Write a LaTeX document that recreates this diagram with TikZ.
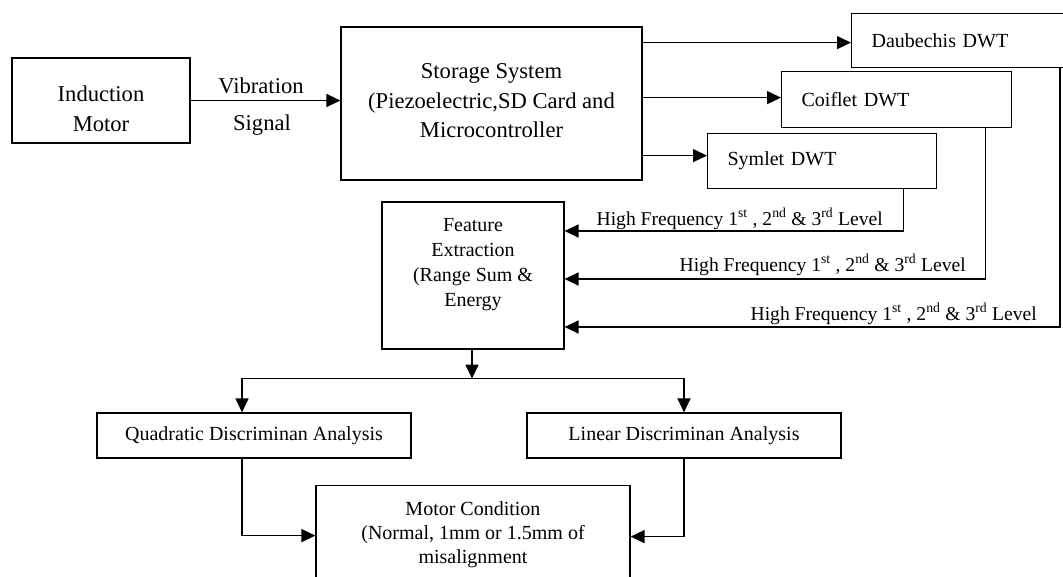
\documentclass[tikz,border=0pt]{standalone}
\usepackage{fontspec}
\setmainfont{Liberation Serif}
\usetikzlibrary{arrows.meta,calc}
\newcommand\hfreqtext{High Frequency 1\textsuperscript{st} , 2\textsuperscript{nd} \& 3\textsuperscript{rd} Level}
\begin{document}
\begin{tikzpicture}[x=1pt,y=-1pt,
  font=\fontsize{20}{24}\selectfont,
  big/.style={font=\fontsize{22.6}{#1}\selectfont},
  box/.style={draw, line width=1.2pt, inner sep=0pt},
  dwt/.style={box, align=left, inner xsep=20pt, anchor=north west},
  lbl/.style={inner sep=0pt, align=center},
  conn/.style={line width=1.4pt},
  arr/.style={conn, -{Triangle[length=14pt,width=13pt]}},
]
\useasboundingbox (0,0) rectangle (1063,576);
\clip (0,0) rectangle (1063,576);
\fill[white] (0,0) rectangle (1063,576);

% boxes
\node[box, minimum width=178pt, minimum height=85pt] (im) at (101,100.5) {};
\node[lbl, big=30] (imtext) at (101,109) {Induction\\Motor};

\node[box, minimum width=301pt, minimum height=153pt] (store) at (491.5,103.5) {};
\node[lbl, big=29.5] (storetext) at (491.5,101) {Storage System\\(Piezoelectric,SD Card and\\Microcontroller};

\node[dwt, text width=189pt, minimum height=54pt] (daub) at (851,13) {Daubechis DWT};
\node[dwt, text width=190pt, minimum height=56pt] (coif) at (781,71) {Coiflet DWT};
\node[dwt, text width=189pt, minimum height=55pt] (sym) at (707,133) {Symlet DWT};

\node[box, minimum width=182pt, minimum height=147pt] (feat) at (473,275.5) {};
\node[lbl, font=\fontsize{20}{25}\selectfont] (feattext) at (473,265)
      {Feature\\Extraction\\(Range Sum \&\\Energy};

\node[box, minimum width=314pt, minimum height=45pt] (quad) at (254,435.5) {Quadratic Discriminan Analysis};
\node[box, minimum width=314pt, minimum height=45pt] (lin) at (684,435.5) {Linear Discriminan Analysis};

\node[box, minimum width=314pt, minimum height=98pt, anchor=north, align=center] (motor) at (473,485)
      {Motor Condition\\(Normal, 1mm or 1.5mm of\\misalignment};

% labels
\node[lbl, big=24, anchor=base] (vib) at (261,93) {Vibration};
\node[lbl, big=24, anchor=base] (sig) at (262,130) {Signal};
\node[lbl, font=\fontsize{19.6}{24}\selectfont, anchor=base east] (hf1) at (883,225) {\hfreqtext};
\node[lbl, font=\fontsize{19.6}{24}\selectfont, anchor=base east] (hf2) at (966,271) {\hfreqtext};
\node[lbl, font=\fontsize{19.6}{24}\selectfont, anchor=base east] (hf3) at (1037,320) {\hfreqtext};

% motor to storage
\draw[arr] (im.east) -- (im.east -| store.west);

% storage to the three transforms
\coordinate (d_in) at ($(daub.west)+(0,2)$);
\coordinate (c_in) at ($(coif.west)+(0,-2)$);
\coordinate (s_in) at ($(sym.west)+(0,-5.5)$);
\draw[arr] (d_in -| store.east) -- (d_in);
\draw[arr] (c_in -| store.east) -- (c_in);
\draw[arr] (s_in -| store.east) -- (s_in);

% transforms back to feature extraction
\coordinate (s_out) at ($(sym.south east)+(-34,0)$);
\coordinate (c_out) at ($(coif.south east)+(-27,0)$);
\coordinate (d_out) at ($(daub.south west)+(209,0)$);
\coordinate (f1) at ($(feat.east)+(0,-44.5)$);
\coordinate (f2) at ($(feat.east)+(0,3.5)$);
\coordinate (f3) at ($(feat.east)+(0,51.5)$);
\draw[arr] (s_out) |- (f1);
\draw[arr] (c_out) |- (f2);
\draw[arr] (d_out) |- (f3);

% split to the two classifiers
\coordinate (fbot) at ($(feat.south)+(-1,0)$);
\coordinate (split) at ($(feat.south)+(-1,29)$);
\coordinate (qtop) at ($(quad.north)+(-12,0)$);
\draw[arr] (fbot) -- (split);
\draw[arr] (split) -| (qtop);
\draw[arr] (split) -| (lin.north);

% classifiers to motor condition
\coordinate (qbot) at ($(quad.south)+(-12,0)$);
\draw[arr] (qbot) |- ($(motor.west)+(0,1)$);
\draw[arr] (lin.south) |- ($(motor.east)+(0,2)$);
\end{tikzpicture}
\end{document}
